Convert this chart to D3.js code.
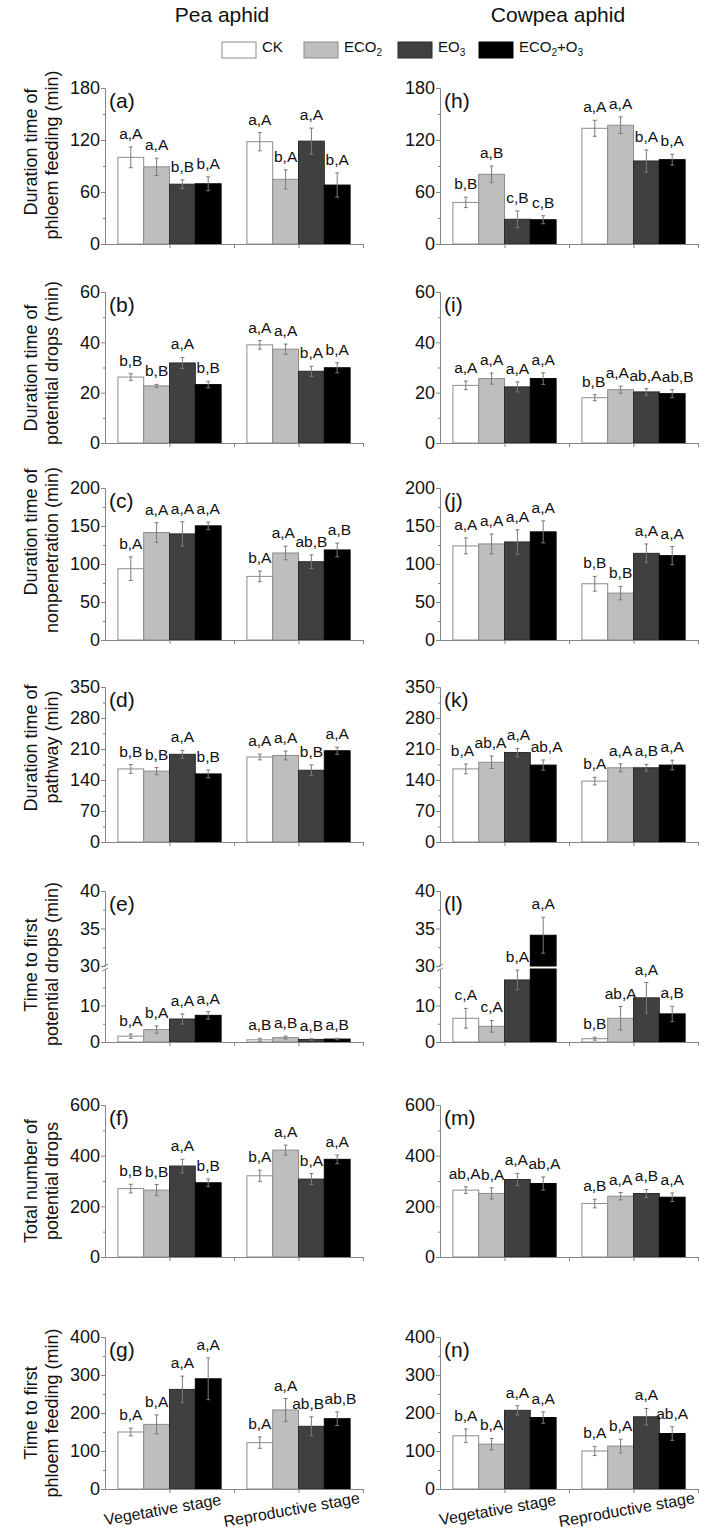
<!DOCTYPE html>
<html><head><meta charset="utf-8">
<script src="https://cdn.jsdelivr.net/npm/d3@7"></script>
<style>
body{margin:0;background:#fff}
text{font-family:"Liberation Sans",Arial,sans-serif;fill:#111}
</style>
</head><body>
<svg id="c" width="717" height="1533"></svg>
<script>
// ---------------- data ----------------
const stages = ["Vegetative stage", "Reproductive stage"];
const treatments = ["CK", "ECO2", "EO3", "ECO2+O3"];
const species = ["Pea aphid", "Cowpea aphid"];

// (a) Pea aphid - duration of phloem feeding (min)
const peaPhloemDur = [[100, 89, 69, 69.5], [118, 74.6, 118.7, 68]];
const peaPhloemDurErr = [[12, 10, 5, 8], [10.5, 11, 15, 14]];
const peaPhloemDurSig = [["a,A", "a,A", "b,B", "b,A"], ["a,A", "b,A", "a,A", "b,A"]];
// (b) Pea aphid - duration of potential drops (min)
const peaDropsDur = [[26.2, 22.7, 31.8, 23.2], [39, 37.3, 28.5, 29.9]];
const peaDropsDurErr = [[1.3, 0.6, 2.2, 1.3], [1.7, 2, 2, 2]];
const peaDropsDurSig = [["b,B", "b,B", "a,A", "b,B"], ["a,A", "a,A", "b,A", "b,A"]];
// (c) Pea aphid - duration of nonpenetration (min)
const peaNonpen = [[93.8, 141.4, 139.6, 150.2], [83.7, 114.5, 103, 118.5]];
const peaNonpenErr = [[15.5, 13, 16, 5], [7, 9, 9, 9]];
const peaNonpenSig = [["b,A", "a,A", "a,A", "a,A"], ["b,A", "a,A", "ab,B", "a,B"]];
// (d) Pea aphid - duration of pathway (min)
const peaPathway = [[165, 160, 198, 153.7], [192, 195.4, 162, 206]];
const peaPathwayErr = [[10, 8, 9, 9], [6.5, 10, 12, 8]];
const peaPathwaySig = [["b,B", "b,B", "a,A", "b,B"], ["a,A", "a,A", "b,B", "a,A"]];
// (e) Pea aphid - time to first potential drops (min)
const peaFirstDrop = [[1.6, 3.4, 6.3, 7.3], [0.6, 1.2, 0.7, 0.8]];
const peaFirstDropErr = [[0.6, 1, 1.4, 1], [0.4, 0.4, 0.2, 0.2]];
const peaFirstDropSig = [["b,A", "b,A", "a,A", "a,A"], ["a,B", "a,B", "a,B", "a,B"]];
// (f) Pea aphid - total number of potential drops
const peaDropsNum = [[270, 264, 359, 293], [320.6, 422, 307.6, 385.5]];
const peaDropsNumErr = [[17, 22, 27, 15], [22, 19.5, 22, 17]];
const peaDropsNumSig = [["b,B", "b,B", "a,A", "b,B"], ["b,A", "a,A", "b,A", "a,A"]];
// (g) Pea aphid - time to first phloem feeding (min)
const peaFirstPhloem = [[150, 170, 262, 290], [122, 208, 165, 185]];
const peaFirstPhloemErr = [[10, 25, 35, 55], [15, 30, 25, 18]];
const peaFirstPhloemSig = [["b,A", "b,A", "a,A", "a,A"], ["b,A", "a,A", "ab,B", "ab,B"]];

// (h) Cowpea aphid - duration of phloem feeding (min)
const cowPhloemDur = [[48, 80.4, 28.5, 28], [133.5, 137, 95.8, 97.3]];
const cowPhloemDurErr = [[6, 9.6, 9.6, 4.6], [9.2, 9.6, 12.7, 6.2]];
const cowPhloemDurSig = [["b,B", "a,B", "c,B", "c,B"], ["a,A", "a,A", "b,A", "b,A"]];
// (i) Cowpea aphid - duration of potential drops (min)
const cowDropsDur = [[22.9, 25.6, 22.3, 25.6], [18, 21.2, 20.3, 19.6]];
const cowDropsDurErr = [[1.7, 2.2, 2, 2.3], [1.2, 1.4, 1.3, 1.6]];
const cowDropsDurSig = [["a,A", "a,A", "a,A", "a,A"], ["b,B", "a,A", "ab,A", "ab,B"]];
// (j) Cowpea aphid - duration of nonpenetration (min)
const cowNonpen = [[123.8, 126.4, 129, 142.3], [74, 61.7, 114, 111]];
const cowNonpenErr = [[10.5, 13, 16, 14.5], [9.7, 8.8, 12.4, 12]];
const cowNonpenSig = [["a,A", "a,A", "a,A", "a,A"], ["b,B", "b,B", "a,A", "a,A"]];
// (k) Cowpea aphid - duration of pathway (min)
const cowPathway = [[165, 180, 202, 173.7], [137.5, 167.6, 167.6, 173.7]];
const cowPathwayErr = [[11, 14, 9.5, 11.5], [8.5, 9, 7.7, 11]];
const cowPathwaySig = [["b,A", "ab,A", "a,A", "ab,A"], ["b,A", "a,A", "a,B", "a,A"]];
// (l) Cowpea aphid - time to first potential drops (min)
const cowFirstDrop = [[6.5, 4.3, 17, 34.1], [0.9, 6.5, 12.1, 7.7]];
const cowFirstDropErr = [[2.7, 1.6, 2.7, 2.4], [0.4, 3.2, 4.2, 2.1]];
const cowFirstDropSig = [["c,A", "c,A", "b,A", "a,A"], ["b,B", "ab,A", "a,A", "a,B"]];
// (m) Cowpea aphid - total number of potential drops
const cowDropsNum = [[264, 251, 306, 290], [211, 240, 250.6, 236]];
const cowDropsNumErr = [[13, 22, 24, 26], [17, 14.6, 16, 17]];
const cowDropsNumSig = [["ab,A", "b,A", "a,A", "ab,A"], ["a,B", "a,A", "a,B", "a,A"]];
// (n) Cowpea aphid - time to first phloem feeding (min)
const cowFirstPhloem = [[140, 118, 207, 188], [100, 113, 190, 146]];
const cowFirstPhloemErr = [[18, 15, 12, 15], [12, 18, 22, 18]];
const cowFirstPhloemSig = [["b,A", "b,A", "a,A", "a,A"], ["b,A", "b,A", "a,A", "ab,A"]];

// tick labels per row
const ticksPhloemDur = [0, 60, 120, 180];
const ticksDropsDur = [0, 20, 40, 60];
const ticksNonpen = [0, 50, 100, 150, 200];
const ticksPathway = [0, 70, 140, 210, 280, 350];
const ticksFirstDropLow = [0, 10];
const ticksFirstDropHigh = [30, 35, 40];
const ticksDropsNum = [0, 200, 400, 600];
const ticksFirstPhloem = [0, 100, 200, 300, 400];

const yLabels = [
  ["Duration time of", "phloem feeding (min)"],
  ["Duration time of", "potential drops (min)"],
  ["Duration time of", "nonpenetration (min)"],
  ["Duration time of", "pathway (min)"],
  ["Time to first", "potential drops (min)"],
  ["Total number of", "potential drops"],
  ["Time to first", "phloem feeding (min)"]
];

// ---------------- layout / style ----------------
const fills = ["#ffffff", "#bebebe", "#404040", "#000000"];
const strokes = ["#8c8c8c", "#8c8c8c", "#2a2a2a", "#000000"];
const axisColor = "#858585";
const W = 258;
const colX = [105, 440];
const rows = [
  {top: 88, h: 156}, {top: 292, h: 151}, {top: 488, h: 152}, {top: 687, h: 155},
  {top: 891, h: 151}, {top: 1105, h: 152}, {top: 1337, h: 152}
];
const ylabCenters = [[152, 155], [368, 363], [532, 550], [748, 747], [965, 964], [1181, 1181], [1413, 1413]];

const panels = [
  {col: 0, row: 0, id: "(a)", m: peaPhloemDur, e: peaPhloemDurErr, s: peaPhloemDurSig, ticks: ticksPhloemDur},
  {col: 0, row: 1, id: "(b)", m: peaDropsDur, e: peaDropsDurErr, s: peaDropsDurSig, ticks: ticksDropsDur},
  {col: 0, row: 2, id: "(c)", m: peaNonpen, e: peaNonpenErr, s: peaNonpenSig, ticks: ticksNonpen},
  {col: 0, row: 3, id: "(d)", m: peaPathway, e: peaPathwayErr, s: peaPathwaySig, ticks: ticksPathway},
  {col: 0, row: 4, id: "(e)", m: peaFirstDrop, e: peaFirstDropErr, s: peaFirstDropSig, low: ticksFirstDropLow, high: ticksFirstDropHigh, brk: [20, 30]},
  {col: 0, row: 5, id: "(f)", m: peaDropsNum, e: peaDropsNumErr, s: peaDropsNumSig, ticks: ticksDropsNum},
  {col: 0, row: 6, id: "(g)", m: peaFirstPhloem, e: peaFirstPhloemErr, s: peaFirstPhloemSig, ticks: ticksFirstPhloem},
  {col: 1, row: 0, id: "(h)", m: cowPhloemDur, e: cowPhloemDurErr, s: cowPhloemDurSig, ticks: ticksPhloemDur},
  {col: 1, row: 1, id: "(i)", m: cowDropsDur, e: cowDropsDurErr, s: cowDropsDurSig, ticks: ticksDropsDur},
  {col: 1, row: 2, id: "(j)", m: cowNonpen, e: cowNonpenErr, s: cowNonpenSig, ticks: ticksNonpen},
  {col: 1, row: 3, id: "(k)", m: cowPathway, e: cowPathwayErr, s: cowPathwaySig, ticks: ticksPathway},
  {col: 1, row: 4, id: "(l)", m: cowFirstDrop, e: cowFirstDropErr, s: cowFirstDropSig, low: ticksFirstDropLow, high: ticksFirstDropHigh, brk: [20, 30]},
  {col: 1, row: 5, id: "(m)", m: cowDropsNum, e: cowDropsNumErr, s: cowDropsNumSig, ticks: ticksDropsNum},
  {col: 1, row: 6, id: "(n)", m: cowFirstPhloem, e: cowFirstPhloemErr, s: cowFirstPhloemSig, ticks: ticksFirstPhloem}
];

const svg = d3.select("#c");

function styleAxis(sel) {
  sel.select(".domain").attr("stroke", axisColor).attr("stroke-width", 1);
  sel.selectAll(".tick line").attr("stroke", axisColor);
  sel.selectAll(".tick text").attr("font-size", 18).attr("fill", "#111")
     .attr("font-family", "'Liberation Sans', Arial, sans-serif");
}
function minorOf(t) {
  const out = [];
  for (let i = 0; i < t.length - 1; i++) out.push((t[i] + t[i + 1]) / 2);
  return out;
}

function drawPanel(p) {
  const r = rows[p.row];
  const h = r.h;
  const g = svg.append("g").attr("transform", `translate(${colX[p.col]},${r.top})`);
  const x = d3.scaleLinear().domain([0, 4]).range([0, W]);
  let yLow, yUp = null;
  if (p.brk) {
    const lowerH = Math.round(h * 0.485), gap = 3;
    yLow = d3.scaleLinear().domain([0, p.brk[0]]).range([h, h - lowerH]);
    yUp = d3.scaleLinear().domain([p.brk[1], p.high[p.high.length - 1]]).range([h - lowerH - gap, 0]);
  } else {
    yLow = d3.scaleLinear().domain([0, p.ticks[p.ticks.length - 1]]).range([h, 0]);
  }
  const Y = v => (yUp && v >= p.brk[1]) ? yUp(v) : yLow(v);

  // bars
  p.m.forEach((vals, s) => {
    const labs = [];
    vals.forEach((v, t) => {
      const x0 = x(1 + 2 * s - 0.8 + 0.4 * t), bw = x(0.4) - x(0);
      if (yUp && v > p.brk[1]) {
        g.append("rect").attr("x", x0).attr("width", bw).attr("y", yLow(p.brk[0])).attr("height", h - yLow(p.brk[0]))
          .attr("fill", fills[t]).attr("stroke", strokes[t]);
        g.append("rect").attr("x", x0).attr("width", bw).attr("y", yUp(v)).attr("height", yUp(p.brk[1]) - yUp(v))
          .attr("fill", fills[t]).attr("stroke", strokes[t]);
      } else {
        g.append("rect").attr("x", x0).attr("width", bw).attr("y", Y(v)).attr("height", h - Y(v))
          .attr("fill", fills[t]).attr("stroke", strokes[t]);
      }
      const cx = x0 + bw / 2, e = p.e[s][t];
      const yt = Y(v + e), yb = Y(v - e);
      g.append("line").attr("x1", cx).attr("x2", cx).attr("y1", yt).attr("y2", yb)
        .attr("stroke", "#7a7a7a").attr("stroke-width", 1);
      [yt, yb].forEach(yy => g.append("line").attr("x1", cx - 2).attr("x2", cx + 2).attr("y1", yy).attr("y2", yy)
        .attr("stroke", "#7a7a7a").attr("stroke-width", 1));
      const lt = g.append("text").attr("x", cx).attr("y", yt - 8).attr("text-anchor", "middle")
        .attr("font-size", 15.5).text(p.s[s][t]);
      labs.push({el: lt, cx: cx, y: yt - 8, w: lt.node().getComputedTextLength()});
    });
    // push apart neighbouring labels that would collide
    for (let iter = 0; iter < 6; iter++) {
      for (let i = 0; i < labs.length - 1; i++) {
        const a = labs[i], b = labs[i + 1];
        if (Math.abs(a.y - b.y) < 12) {
          const ov = (a.cx + a.w / 2) - (b.cx - b.w / 2) + 0.5;
          if (ov > 0) { a.cx -= ov / 2; b.cx += ov / 2; }
        }
      }
    }
    labs.forEach(l => l.el.attr("x", l.cx));
  });

  // y axis
  if (p.brk) {
    const a1 = g.append("g").call(d3.axisLeft(yLow).tickValues(p.low).tickSize(4).tickSizeOuter(0));
    const a2 = g.append("g").call(d3.axisLeft(yUp).tickValues(p.high).tickSize(4).tickSizeOuter(0));
    const m1 = g.append("g").call(d3.axisLeft(yLow).tickValues(minorOf(p.low.concat([p.brk[0]]))).tickSize(2).tickSizeOuter(0).tickFormat(""));
    const m2 = g.append("g").call(d3.axisLeft(yUp).tickValues(minorOf(p.high)).tickSize(2).tickSizeOuter(0).tickFormat(""));
    [a1, a2, m1, m2].forEach(styleAxis);
    const yb = (yLow(p.brk[0]) + yUp(p.brk[1])) / 2;
    [-2, 2].forEach(d => g.append("line").attr("x1", -3).attr("x2", 3).attr("y1", yb + d + 1.5).attr("y2", yb + d - 1.5)
      .attr("stroke", axisColor).attr("stroke-width", 1));
  } else {
    const a = g.append("g").call(d3.axisLeft(yLow).tickValues(p.ticks).tickSize(4).tickSizeOuter(0));
    const m = g.append("g").call(d3.axisLeft(yLow).tickValues(minorOf(p.ticks)).tickSize(2).tickSizeOuter(0).tickFormat(""));
    styleAxis(a); styleAxis(m);
  }
  g.selectAll(".tick text").attr("x", -5);

  // x axis
  const xa = g.append("g").attr("transform", `translate(0,${h})`)
    .call(d3.axisBottom(x).tickValues([1, 2, 3, 4]).tickSize(4).tickSizeOuter(0).tickFormat(""));
  styleAxis(xa);

  // panel letter
  g.append("text").attr("x", 4).attr("y", 20).attr("font-size", 21).text(p.id);

  // y labels (left column only)
  if (p.col === 0) {
    const c = ylabCenters[p.row];
    yLabels[p.row].forEach((ln, i) => {
      svg.append("text").attr("transform", `translate(${i === 0 ? 37 : 58},${c[i]}) rotate(-90)`)
        .attr("text-anchor", "middle").attr("font-size", 18).text(ln);
    });
  }
  // stage labels on last row
  if (p.row === 6) {
    stages.forEach((st, s) => {
      g.append("text").attr("transform", `translate(${x(1 + 2 * s) - 6},${h + 26}) rotate(-10)`)
        .attr("text-anchor", "middle").attr("font-size", 16).text(st);
    });
  }
}
panels.forEach(drawPanel);

// species titles
species.forEach((sp, i) => {
  svg.append("text").attr("x", colX[i] + (i === 0 ? 117 : 118)).attr("y", 22).attr("text-anchor", "middle")
    .attr("font-size", 21).text(sp);
});

// legend
const legX = [222, 304, 398, 479];
const legLabels = [
  [["CK", 0]],
  [["ECO", 0], ["2", 1]],
  [["EO", 0], ["3", 1]],
  [["ECO", 0], ["2", 1], ["+O", 0], ["3", 1]]
];
treatments.forEach((tr, i) => {
  svg.append("rect").attr("x", legX[i]).attr("y", 42).attr("width", 34).attr("height", 16)
    .attr("fill", fills[i]).attr("stroke", strokes[i]);
  const t = svg.append("text").attr("x", legX[i] + 40).attr("y", 56).attr("font-size", 15);
  legLabels[i].forEach(([txt, sub]) => {
    t.append("tspan").attr("font-size", sub ? 10 : 15).attr("dy", sub ? 4 : (t.selectAll("tspan").size() ? -4 : 0)).text(txt);
  });
});
</script>
</body></html>
